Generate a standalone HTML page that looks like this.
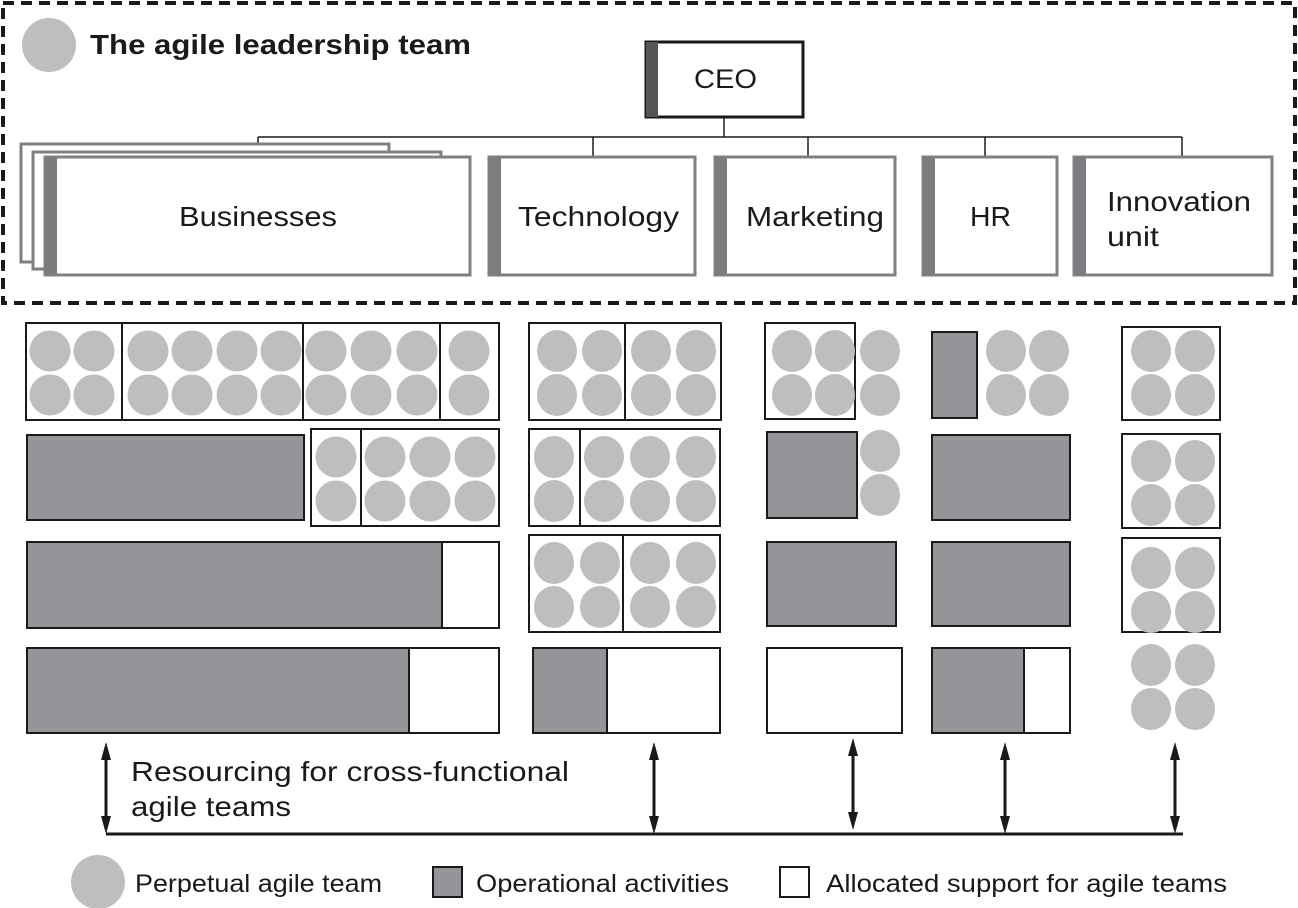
<!DOCTYPE html>
<html><head><meta charset="utf-8"><style>
html,body{margin:0;padding:0;background:#fff}
svg{display:block;font-family:"Liberation Sans",Arial,sans-serif}
</style></head><body>
<svg width="1298" height="908" viewBox="0 0 1298 908" xmlns="http://www.w3.org/2000/svg">
<!-- dashed frame -->
<rect x="3" y="3" width="1292" height="300" fill="none" stroke="#1a1a1a" stroke-width="4" stroke-dasharray="11,7"/>
<circle cx="49" cy="45" r="27" fill="#bdbec0"/>
<text x="90" y="54" font-size="28" font-weight="bold" fill="#1a1a1a" textLength="381" lengthAdjust="spacingAndGlyphs">The agile leadership team</text>

<!-- CEO -->
<rect x="646" y="42" width="157" height="75" fill="#fff" stroke="#1a1a1a" stroke-width="3"/>
<rect x="646" y="42" width="12" height="75" fill="#555"/>
<text x="694" y="88" font-size="27" fill="#1a1a1a" textLength="63" lengthAdjust="spacingAndGlyphs">CEO</text>
<g stroke="#1a1a1a" stroke-width="1.5" fill="none">
<line x1="724" y1="117" x2="724" y2="137"/>
<line x1="258" y1="137" x2="1182" y2="137"/>
<line x1="258" y1="137" x2="258" y2="145"/>
<line x1="593" y1="137" x2="593" y2="157"/>
<line x1="808" y1="137" x2="808" y2="157"/>
<line x1="985" y1="137" x2="985" y2="157"/>
<line x1="1182" y1="137" x2="1182" y2="157"/>
</g>
<g stroke="#808083" stroke-width="3" fill="#fff">
<rect x="21" y="144" width="368" height="118"/>
<rect x="33" y="152" width="408" height="117"/>
<rect x="45" y="157" width="425" height="118"/>
<rect x="489" y="157" width="206" height="118"/>
<rect x="715" y="157" width="180" height="118"/>
<rect x="923" y="157" width="134" height="118"/>
<rect x="1074" y="157" width="198" height="118"/>
</g>
<g fill="#7b7c7f">
<rect x="45" y="157" width="12" height="118"/>
<rect x="489" y="157" width="12" height="118"/>
<rect x="715" y="157" width="12" height="118"/>
<rect x="923" y="157" width="12" height="118"/>
<rect x="1074" y="157" width="12" height="118"/>
</g>
<g font-size="28" fill="#1a1a1a">
<text x="179" y="226" textLength="158" lengthAdjust="spacingAndGlyphs">Businesses</text>
<text x="518" y="226" textLength="161" lengthAdjust="spacingAndGlyphs">Technology</text>
<text x="746" y="226" textLength="138" lengthAdjust="spacingAndGlyphs">Marketing</text>
<text x="970" y="226" textLength="41" lengthAdjust="spacingAndGlyphs">HR</text>
<text x="1107" y="211" textLength="144" lengthAdjust="spacingAndGlyphs">Innovation</text>
<text x="1107" y="246" textLength="52" lengthAdjust="spacingAndGlyphs">unit</text>
</g>

<!-- grid boxes -->
<g stroke="#1a1a1a" stroke-width="2">
<rect x="26" y="323" width="473" height="97" fill="#fff"/>
<line x1="122" y1="323" x2="122" y2="420"/><line x1="303" y1="323" x2="303" y2="420"/><line x1="440" y1="323" x2="440" y2="420"/>
<rect x="27" y="435" width="277" height="85" fill="#939598"/>
<rect x="311" y="429" width="188" height="97" fill="#fff"/>
<line x1="361" y1="429" x2="361" y2="526"/>
<rect x="27" y="542" width="472" height="86" fill="#fff"/>
<rect x="27" y="542" width="415" height="86" fill="#939598"/>
<rect x="27" y="648" width="472" height="85" fill="#fff"/>
<rect x="27" y="648" width="382" height="85" fill="#939598"/>
<rect x="529" y="323" width="192" height="97" fill="#fff"/><line x1="625" y1="323" x2="625" y2="420"/>
<rect x="529" y="429" width="191" height="97" fill="#fff"/><line x1="580" y1="429" x2="580" y2="526"/>
<rect x="529" y="535" width="191" height="97" fill="#fff"/><line x1="623" y1="535" x2="623" y2="632"/>
<rect x="533" y="648" width="187" height="85" fill="#fff"/>
<rect x="533" y="648" width="74" height="85" fill="#939598"/>
<rect x="765" y="323" width="90" height="96" fill="#fff"/>
<rect x="767" y="432" width="90" height="86" fill="#939598"/>
<rect x="767" y="542" width="129" height="84" fill="#939598"/>
<rect x="767" y="648" width="135" height="85" fill="#fff"/>
<rect x="932" y="332" width="45" height="86" fill="#939598"/>
<rect x="932" y="435" width="138" height="85" fill="#939598"/>
<rect x="932" y="542" width="138" height="84" fill="#939598"/>
<rect x="932" y="648" width="138" height="85" fill="#fff"/>
<rect x="932" y="648" width="92" height="85" fill="#939598"/>
<rect x="1122" y="327" width="98" height="93" fill="#fff"/>
<rect x="1122" y="434" width="98" height="94" fill="#fff"/>
<rect x="1122" y="538" width="98" height="94" fill="#fff"/>
</g>
<g fill="#bdbec0">
<circle cx="50" cy="351" r="20.5"/><circle cx="94" cy="351" r="20.5"/><circle cx="50" cy="395" r="20.5"/><circle cx="94" cy="395" r="20.5"/>
<circle cx="148" cy="351" r="20.5"/><circle cx="192" cy="351" r="20.5"/><circle cx="237" cy="351" r="20.5"/><circle cx="281" cy="351" r="20.5"/>
<circle cx="148" cy="395" r="20.5"/><circle cx="192" cy="395" r="20.5"/><circle cx="237" cy="395" r="20.5"/><circle cx="281" cy="395" r="20.5"/>
<circle cx="326" cy="351" r="20.5"/><circle cx="371" cy="351" r="20.5"/><circle cx="417" cy="351" r="20.5"/>
<circle cx="326" cy="395" r="20.5"/><circle cx="371" cy="395" r="20.5"/><circle cx="417" cy="395" r="20.5"/>
<circle cx="469" cy="351" r="20.5"/><circle cx="469" cy="395" r="20.5"/>
<circle cx="336" cy="457" r="20.5"/><circle cx="336" cy="501" r="20.5"/>
<circle cx="385" cy="457" r="20.5"/><circle cx="430" cy="457" r="20.5"/><circle cx="475" cy="457" r="20.5"/>
<circle cx="385" cy="501" r="20.5"/><circle cx="430" cy="501" r="20.5"/><circle cx="475" cy="501" r="20.5"/>
<ellipse cx="557" cy="351" rx="20" ry="21"/><ellipse cx="602" cy="351" rx="20" ry="21"/><ellipse cx="651" cy="351" rx="20" ry="21"/><ellipse cx="696" cy="351" rx="20" ry="21"/>
<ellipse cx="557" cy="395" rx="20" ry="21"/><ellipse cx="602" cy="395" rx="20" ry="21"/><ellipse cx="651" cy="395" rx="20" ry="21"/><ellipse cx="696" cy="395" rx="20" ry="21"/>
<ellipse cx="554" cy="457" rx="20" ry="21"/><ellipse cx="604" cy="457" rx="20" ry="21"/><ellipse cx="650" cy="457" rx="20" ry="21"/><ellipse cx="696" cy="457" rx="20" ry="21"/>
<ellipse cx="554" cy="501" rx="20" ry="21"/><ellipse cx="604" cy="501" rx="20" ry="21"/><ellipse cx="650" cy="501" rx="20" ry="21"/><ellipse cx="696" cy="501" rx="20" ry="21"/>
<ellipse cx="554" cy="563" rx="20" ry="21"/><ellipse cx="600" cy="563" rx="20" ry="21"/><ellipse cx="650" cy="563" rx="20" ry="21"/><ellipse cx="696" cy="563" rx="20" ry="21"/>
<ellipse cx="554" cy="607" rx="20" ry="21"/><ellipse cx="600" cy="607" rx="20" ry="21"/><ellipse cx="650" cy="607" rx="20" ry="21"/><ellipse cx="696" cy="607" rx="20" ry="21"/>
<ellipse cx="792" cy="351" rx="20" ry="21"/><ellipse cx="835" cy="351" rx="20" ry="21"/><ellipse cx="880" cy="351" rx="20" ry="21"/>
<ellipse cx="792" cy="395" rx="20" ry="21"/><ellipse cx="835" cy="395" rx="20" ry="21"/><ellipse cx="880" cy="395" rx="20" ry="21"/>
<ellipse cx="880" cy="451" rx="20" ry="21"/><ellipse cx="880" cy="495" rx="20" ry="21"/>
<ellipse cx="1006" cy="351" rx="20" ry="21"/><ellipse cx="1049" cy="351" rx="20" ry="21"/>
<ellipse cx="1006" cy="395" rx="20" ry="21"/><ellipse cx="1049" cy="395" rx="20" ry="21"/>
<ellipse cx="1151" cy="351" rx="20" ry="21"/><ellipse cx="1195" cy="351" rx="20" ry="21"/>
<ellipse cx="1151" cy="395" rx="20" ry="21"/><ellipse cx="1195" cy="395" rx="20" ry="21"/>
<ellipse cx="1151" cy="461" rx="20" ry="21"/><ellipse cx="1195" cy="461" rx="20" ry="21"/>
<ellipse cx="1151" cy="505" rx="20" ry="21"/><ellipse cx="1195" cy="505" rx="20" ry="21"/>
<ellipse cx="1151" cy="568" rx="20" ry="21"/><ellipse cx="1195" cy="568" rx="20" ry="21"/>
<ellipse cx="1151" cy="612" rx="20" ry="21"/><ellipse cx="1195" cy="612" rx="20" ry="21"/>
<ellipse cx="1151" cy="665" rx="20" ry="21"/><ellipse cx="1195" cy="665" rx="20" ry="21"/>
<ellipse cx="1151" cy="709" rx="20" ry="21"/><ellipse cx="1195" cy="709" rx="20" ry="21"/>
</g>

<!-- arrows -->
<g stroke="#1a1a1a" stroke-width="3">
<line x1="106" y1="834" x2="1183" y2="834"/>
<line x1="106" y1="755" x2="106" y2="822"/>
<line x1="654" y1="755" x2="654" y2="822"/>
<line x1="853" y1="751" x2="853" y2="818"/>
<line x1="1005" y1="755" x2="1005" y2="822"/>
<line x1="1175" y1="755" x2="1175" y2="822"/>
</g>
<g fill="#1a1a1a">
<path d="M106,742 L101,760 L111,760 Z"/><path d="M106,834 L101,816 L111,816 Z"/>
<path d="M654,742 L649,760 L659,760 Z"/><path d="M654,834 L649,816 L659,816 Z"/>
<path d="M853,738 L848,756 L858,756 Z"/><path d="M853,830 L848,812 L858,812 Z"/>
<path d="M1005,742 L1000,760 L1010,760 Z"/><path d="M1005,834 L1000,816 L1010,816 Z"/>
<path d="M1175,742 L1170,760 L1180,760 Z"/><path d="M1175,834 L1170,816 L1180,816 Z"/>
</g>
<g font-size="28" fill="#1a1a1a">
<text x="131" y="781" textLength="438" lengthAdjust="spacingAndGlyphs">Resourcing for cross-functional</text>
<text x="131" y="816" textLength="160" lengthAdjust="spacingAndGlyphs">agile teams</text>
</g>

<!-- legend -->
<ellipse cx="98" cy="882" rx="27" ry="27" fill="#bdbec0"/>
<rect x="433" y="867" width="29" height="30" fill="#939598" stroke="#1a1a1a" stroke-width="2"/>
<rect x="780" y="867" width="29" height="30" fill="#fff" stroke="#1a1a1a" stroke-width="2"/>
<g font-size="25" fill="#1a1a1a">
<text x="135" y="892" textLength="247" lengthAdjust="spacingAndGlyphs">Perpetual agile team</text>
<text x="476" y="892" textLength="253" lengthAdjust="spacingAndGlyphs">Operational activities</text>
<text x="826" y="892" textLength="401" lengthAdjust="spacingAndGlyphs">Allocated support for agile teams</text>
</g>
</svg>
</body></html>
